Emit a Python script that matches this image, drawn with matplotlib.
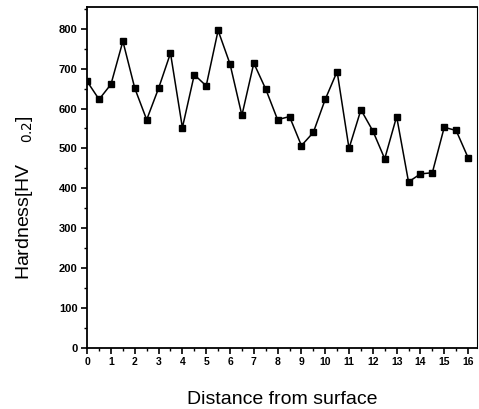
import matplotlib
matplotlib.use("Agg")
import matplotlib.pyplot as plt
import numpy as np
from matplotlib.ticker import MultipleLocator

distance = [0, 0.5, 1, 1.5, 2, 2.5, 3, 3.5, 4, 4.5, 5, 5.5, 6, 6.5, 7, 7.5, 8,
            8.5, 9, 9.5, 10, 10.5, 11, 11.5, 12, 12.5, 13, 13.5, 14, 14.5, 15, 15.5, 16]
hardness = [668, 623, 661, 769, 651, 572, 651, 739, 552, 685, 657, 796, 712, 583,
            714, 649, 572, 580, 507, 540, 623, 693, 500, 597, 544, 474, 580, 416,
            436, 439, 553, 545, 477]
xticks = list(range(0, 17))
yticks = [0, 100, 200, 300, 400, 500, 600, 700, 800]

plt.rcParams['font.family'] = ['Liberation Sans', 'DejaVu Sans']

fig = plt.figure(figsize=(4.79, 4.09), dpi=100)
ax = fig.add_axes([0.182, 0.150, 0.814, 0.833])
ax.plot(distance, hardness, color='black', lw=1.1, marker='s', markersize=4.7,
        markerfacecolor='black', markeredgecolor='black')
ax.set_xlim(0, 16.38)
ax.set_ylim(0, 855)
ax.set_xticks(xticks)
ax.set_yticks(yticks)
ax.xaxis.set_minor_locator(MultipleLocator(0.5))
ax.yaxis.set_minor_locator(MultipleLocator(50))
ax.tick_params(axis='both', which='major', direction='out', length=4, width=1.2,
               pad=3)
ax.tick_params(axis='x', labelsize=7.5)
ax.tick_params(axis='y', labelsize=8)
ax.tick_params(axis='both', which='minor', direction='out', length=2, width=1)
for lab in ax.get_xticklabels() + ax.get_yticklabels():
    lab.set_fontweight('bold')
for side in ['left', 'bottom', 'top']:
    ax.spines[side].set_linewidth(1.3)
ax.spines['right'].set_linewidth(0.8)
ax.set_xlabel('Distance from surface', fontsize=14, labelpad=17)
ax.set_ylabel(r'Hardness[HV$\;\;\;\;_{0.2}$]', fontsize=14)
ax.yaxis.set_label_coords(-0.135, 0.44)
fig.savefig('out.png', dpi=100)
